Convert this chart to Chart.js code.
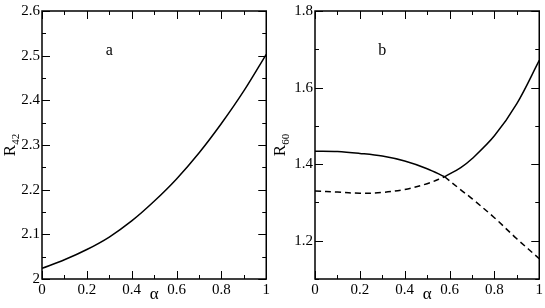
<!DOCTYPE html>
<html>
<head>
<meta charset="utf-8">
<script src="https://cdn.jsdelivr.net/npm/chart.js@4.4.1/dist/chart.umd.min.js"></script>
<style>
  body { margin: 0; background: #fff; }
  #wrap { position: relative; width: 545px; height: 308px; }
  canvas { position: absolute; top: 0; }
</style>
</head>
<body>
<div id="wrap">
  <canvas id="chartA" width="272" height="308" style="left:0"></canvas>
  <canvas id="chartB" width="273" height="308" style="left:272px"></canvas>
</div>
<script>
// panel a data
const alphaA = [0, 0.1, 0.2, 0.3, 0.4, 0.5, 0.6, 0.7, 0.8, 0.9, 1.0]
const r42 = [2.024, 2.043, 2.066, 2.094, 2.130, 2.174, 2.224, 2.282, 2.348, 2.421, 2.503]

// panel b data, split at the crossing point
const alphaBLeft = [0, 0.1, 0.2, 0.3, 0.4, 0.5, 0.578]
const r60SolidLeft = [1.434, 1.433, 1.428, 1.421, 1.408, 1.388, 1.367]
const r60DashedLeft = [1.330, 1.327, 1.324, 1.326, 1.334, 1.349, 1.367]
const alphaBRight = [0.578, 0.65, 0.7, 0.8, 0.9, 1.0]
const r60SolidRight = [1.367, 1.391, 1.414, 1.474, 1.558, 1.671]
const r60DashedRight = [1.367, 1.333, 1.310, 1.260, 1.205, 1.153]

// tick labels
const xTickStep = 0.2
const fontFamily = 'Liberation Serif'

// function to zip two arrays into points
function toPoints(xs, ys) {
    return xs.map((x, i) => ({ x: x, y: ys[i] }))
}

// function to make a black line dataset
function lineSet(xs, ys, dashed) {
    return {
        data: toPoints(xs, ys),
        borderColor: '#000',
        borderWidth: 1.5,
        borderDash: dashed ? [6, 4] : [],
        pointRadius: 0,
        tension: 0.35
    }
}

// plugin for frame, inward ticks and titles
const framePlugin = {
    id: 'frame',
    afterDraw(chart, args, opts) {
        const ctx = chart.ctx
        const area = chart.chartArea
        const xs = chart.scales.x
        const ys = chart.scales.y
        ctx.save()
        ctx.strokeStyle = '#000'
        ctx.lineWidth = 1.5
        ctx.strokeRect(area.left, area.top, area.right - area.left, area.bottom - area.top)
        ctx.lineWidth = 1
        ctx.beginPath()
        // x ticks
        for (let i = 0; i <= 10; i++) {
            const v = i * 0.1
            const len = (i % 2 === 0) ? 8 : 4
            const px = Math.round(xs.getPixelForValue(v)) + 0.5
            ctx.moveTo(px, area.bottom); ctx.lineTo(px, area.bottom - len)
            ctx.moveTo(px, area.top); ctx.lineTo(px, area.top + len)
        }
        // y ticks
        const n = Math.round((opts.yMax - opts.yMin) / opts.yMinor)
        for (let i = 0; i <= n; i++) {
            const v = opts.yMin + i * opts.yMinor
            const k = (v - opts.yMajorBase) / opts.yMajor
            const major = Math.abs(k - Math.round(k)) < 1e-6
            const len = major ? 8 : 4
            const py = Math.round(ys.getPixelForValue(v)) + 0.5
            ctx.moveTo(area.left, py); ctx.lineTo(area.left + len, py)
            ctx.moveTo(area.right, py); ctx.lineTo(area.right - len, py)
        }
        ctx.stroke()

        // x title
        ctx.fillStyle = '#000'
        ctx.textAlign = 'center'
        ctx.textBaseline = 'alphabetic'
        ctx.font = '17px ' + fontFamily
        ctx.fillText('α', (area.left + area.right) / 2, 299)

        // y title with subscript
        ctx.save()
        ctx.translate(opts.yTitleX, (area.top + area.bottom) / 2)
        ctx.rotate(-Math.PI / 2)
        ctx.font = '17px ' + fontFamily
        const wR = ctx.measureText('R').width
        ctx.font = '11px ' + fontFamily
        const wS = ctx.measureText(opts.sub).width
        const start = -(wR + wS) / 2
        ctx.textAlign = 'left'
        ctx.font = '17px ' + fontFamily
        ctx.fillText('R', start, 6)
        ctx.font = '11px ' + fontFamily
        ctx.fillText(opts.sub, start + wR, 10)
        ctx.restore()

        // panel letter
        ctx.font = '16px ' + fontFamily
        ctx.textAlign = 'center'
        ctx.textBaseline = 'middle'
        ctx.fillText(opts.letter, xs.getPixelForValue(0.3), ys.getPixelForValue(opts.letterY))
        ctx.restore()
    }
}

// function to build a panel
function createPanel(canvasId, datasets, yMin, yMax, yStep, yWidth, padRight, frameOpts, yLabelFn) {
    const ctx = document.getElementById(canvasId).getContext('2d')
    return new Chart(ctx, {
        type: 'line',
        data: { datasets: datasets },
        options: {
            responsive: false,
            animation: false,
            layout: { padding: { top: 6, right: padRight, left: 0, bottom: 0 } },
            plugins: {
                legend: { display: false },
                tooltip: { enabled: false },
                frame: frameOpts
            },
            scales: {
                x: {
                    type: 'linear',
                    min: 0,
                    max: 1,
                    grid: { display: false, drawTicks: false },
                    border: { display: false },
                    afterFit: function(scale) { scale.height = 29 },
                    ticks: {
                        stepSize: xTickStep,
                        padding: 2,
                        color: '#000',
                        maxRotation: 0,
                        font: { family: fontFamily, size: 15 },
                        callback: function(v) { return Math.round(v * 10) / 10 }
                    }
                },
                y: {
                    type: 'linear',
                    min: yMin,
                    max: yMax,
                    grid: { display: false, drawTicks: false },
                    border: { display: false },
                    afterFit: function(scale) { scale.width = yWidth },
                    ticks: {
                        stepSize: yStep,
                        padding: 2,
                        color: '#000',
                        font: { family: fontFamily, size: 15 },
                        callback: yLabelFn
                    }
                }
            }
        },
        plugins: [framePlugin]
    })
}

// execute when dom is loaded
document.addEventListener('DOMContentLoaded', function() {
    // panel a
    createPanel('chartA', [lineSet(alphaA, r42, false)], 2, 2.6, 0.1, 42, 3,
        { yMin: 2, yMax: 2.6, yMinor: 0.05, yMajor: 0.1, yMajorBase: 2, yTitleX: 9, sub: '42', letter: 'a', letterY: 2.51 },
        function(v) { return Math.round(v * 10) / 10 })

    // panel b
    createPanel('chartB', [
        lineSet(alphaBLeft, r60SolidLeft, false),
        lineSet(alphaBRight, r60SolidRight, false),
        lineSet(alphaBLeft, r60DashedLeft, true),
        lineSet(alphaBRight, r60DashedRight, true)
    ], 1.1, 1.8, 0.2, 43, 5,
        { yMin: 1.1, yMax: 1.8, yMinor: 0.1, yMajor: 0.2, yMajorBase: 1.2, yTitleX: 7, sub: '60', letter: 'b', letterY: 1.697 },
        function(v) { const r = Math.round(v * 10) / 10; return (r === 1.1) ? '' : r })
})
</script>
</body>
</html>
